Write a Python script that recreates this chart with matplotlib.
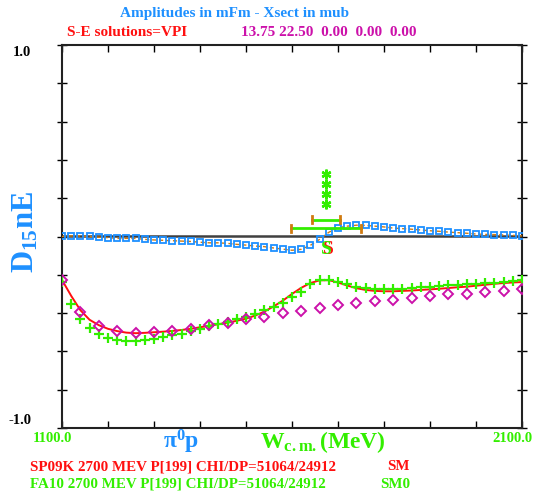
import numpy as np
import matplotlib
matplotlib.use("Agg")
import matplotlib.pyplot as plt

plt.rcParams["font.family"] = ["Liberation Serif", "DejaVu Serif"]
plt.rcParams["font.weight"] = "bold"
plt.rcParams["mathtext.fontset"] = "custom"
plt.rcParams["mathtext.rm"] = "Liberation Serif:bold"
plt.rcParams["mathtext.bf"] = "Liberation Serif:bold"
plt.rcParams["mathtext.it"] = "Liberation Serif:bold"

BLUE = "#1e90ff"
RED = "#ff1010"
GREEN = "#33ee00"
MAGENTA = "#cc11aa"
ORANGE = "#d07a10"

# energies (MeV)
w20 = list(range(1100, 2101, 20))
w40 = list(range(1100, 2101, 40))

# real part, SP09K solution (red curve)
re_sp09k = [-0.227, -0.310, -0.385, -0.435, -0.463, -0.482, -0.494, -0.502, -0.505, -0.503,
            -0.500, -0.497, -0.493, -0.488, -0.482, -0.474, -0.466, -0.458, -0.450, -0.440,
            -0.429, -0.413, -0.392, -0.365, -0.335, -0.300, -0.268, -0.243, -0.229, -0.228,
            -0.240, -0.256, -0.270, -0.279, -0.284, -0.286, -0.286, -0.284, -0.282, -0.279,
            -0.276, -0.273, -0.269, -0.265, -0.262, -0.257, -0.252, -0.247, -0.243, -0.240,
            -0.238]

# real part, FA10 solution (green crosses)
re_fa10 = [-0.236, -0.354, -0.429, -0.476, -0.509, -0.530, -0.540, -0.544, -0.544, -0.539,
           -0.535, -0.526, -0.516, -0.507, -0.495, -0.485, -0.467, -0.459, -0.446, -0.432,
           -0.419, -0.403, -0.385, -0.366, -0.346, -0.314, -0.288, -0.250, -0.227, -0.227,
           -0.238, -0.250, -0.262, -0.269, -0.272, -0.276, -0.276, -0.272, -0.269, -0.265,
           -0.262, -0.258, -0.255, -0.252, -0.250, -0.248, -0.245, -0.241, -0.238, -0.232,
           -0.227]

# real part, single-energy points (diamonds)
re_se = [-0.227, -0.396, -0.466, -0.495, -0.506, -0.500, -0.492, -0.481, -0.462, -0.450,
         -0.431, -0.419, -0.401, -0.387, -0.375, -0.359, -0.349, -0.338, -0.330, -0.320,
         -0.312, -0.302, -0.299, -0.290, -0.286, -0.276]

# imaginary part (squares + dashed curve)
im_sq = [0.000, 0.003, 0.003, 0.000, -0.004, -0.006, -0.010, -0.010, -0.010, -0.015,
         -0.018, -0.020, -0.022, -0.024, -0.026, -0.030, -0.033, -0.033, -0.036, -0.041,
         -0.045, -0.050, -0.053, -0.060, -0.066, -0.072, -0.067, -0.046, -0.015, 0.022,
         0.046, 0.054, 0.059, 0.058, 0.054, 0.050, 0.044, 0.041, 0.038, 0.034,
         0.030, 0.027, 0.023, 0.020, 0.017, 0.013, 0.011, 0.010, 0.008, 0.006,
         0.003]

# imaginary part of the zero reference line
im_zero = [0.0, 0.0]
w_zero = [1100, 2100]

# resonance markers
res_w = 1674
res_stars = [0.325, 0.273, 0.220, 0.168]
bar_y = [0.088, 0.044]
bar_half = [30, 76]
s_y = -0.068

fig = plt.figure(figsize=(5.33, 4.91), dpi=100)
ax = fig.add_axes([62 / 533, 1 - 428 / 491, 460 / 533, 383 / 491])
ax.set_xlim(1100, 2100)
ax.set_ylim(-1.0, 1.0)

ax.plot(w_zero, im_zero, color="#404040", lw=1.8, zorder=2)
ax.plot(w20, im_sq, color=ORANGE, lw=1.0, ls=(0, (3, 2)), zorder=3)
ax.plot(w20, im_sq, ls="none", marker="s", ms=4.2, mfc="none", mec=BLUE, mew=1.3, zorder=4)

ax.plot(w20, re_sp09k, color=RED, lw=1.4, zorder=3)
ax.plot(w20, re_fa10, ls="none", marker="+", ms=7, mec=GREEN, mew=1.6, zorder=4)
ax.plot(w40, re_se, ls="none", marker="D", ms=4.8, mfc="none", mec=MAGENTA, mew=1.4, zorder=5)

# resonance pole / width bars
for y, h in zip(bar_y, bar_half):
    ax.plot([res_w - h, res_w + h], [y, y], color=GREEN, lw=2, zorder=4)
    for xe in (res_w - h, res_w + h):
        ax.plot([xe, xe], [y - 0.018, y + 0.018], color=ORANGE, lw=2, zorder=4)
ax.plot([res_w] * len(res_stars), res_stars, ls="none", marker=(6, 2, 0), ms=7,
        mec=GREEN, mew=1.7, zorder=5)
ax.text(res_w + 5, s_y, "S", color=RED, fontsize=14, ha="center", va="center", zorder=5)
ax.text(res_w, s_y, "S", color=GREEN, fontsize=14, ha="center", va="center", zorder=6)

ax.set_xticks(np.arange(1100, 2101, 100))
ax.set_yticks(np.arange(-1.0, 1.01, 0.2))
ax.tick_params(axis="x", which="both", direction="in", top=True, bottom=True,
               length=5, width=1, labelbottom=False)
ax.tick_params(axis="y", which="both", direction="inout", left=True, right=True,
               length=7, width=1, labelleft=False)
for sp in ax.spines.values():
    sp.set_linewidth(1.5)
    sp.set_color("#222222")


def px(x, y):
    return x / 533, 1 - y / 491


fig.text(*px(234, 13), "Amplitudes in mFm - Xsect in mub", color=BLUE, fontsize=11,
         ha="center", va="center")
fig.text(*px(67, 33), "S-E solutions=VPI", color=RED, fontsize=11, ha="left", va="center")
fig.text(*px(241, 33), "13.75 22.50  0.00  0.00  0.00", color=MAGENTA, fontsize=11,
         ha="left", va="center")

fig.text(*px(22, 52), "1.0", fontsize=10.5, ha="center", va="center")
fig.text(*px(20, 420), "-1.0", fontsize=10.5, ha="center", va="center")
fig.text(*px(52, 438), "1100.0", color=GREEN, fontsize=10.5, ha="center", va="center")
fig.text(*px(512, 438), "2100.0", color=GREEN, fontsize=10.5, ha="center", va="center")

fig.text(*px(26, 232), r"$\mathbf{D_{15}nE}$", color=BLUE, fontsize=22, rotation=90,
         ha="center", va="center")
fig.text(*px(181, 442), r"$\mathbf{\pi^0p}$", color=BLUE, fontsize=17, ha="center", va="center")
fig.text(*px(323, 442), r"$\mathbf{W_{c.m.}(MeV)}$", color=GREEN, fontsize=17, ha="center",
         va="center")

fig.text(*px(30, 467), "SP09K 2700 MEV P[199] CHI/DP=51064/24912", color=RED, fontsize=10.8,
         ha="left", va="center")
fig.text(*px(410, 467), "SM", color=RED, fontsize=10.8, ha="right", va="center")
fig.text(*px(30, 484), "FA10 2700 MEV P[199] CHI/DP=51064/24912", color=GREEN, fontsize=10.8,
         ha="left", va="center")
fig.text(*px(410, 484), "SM0", color=GREEN, fontsize=10.8, ha="right", va="center")

fig.savefig("out.png", dpi=100)
